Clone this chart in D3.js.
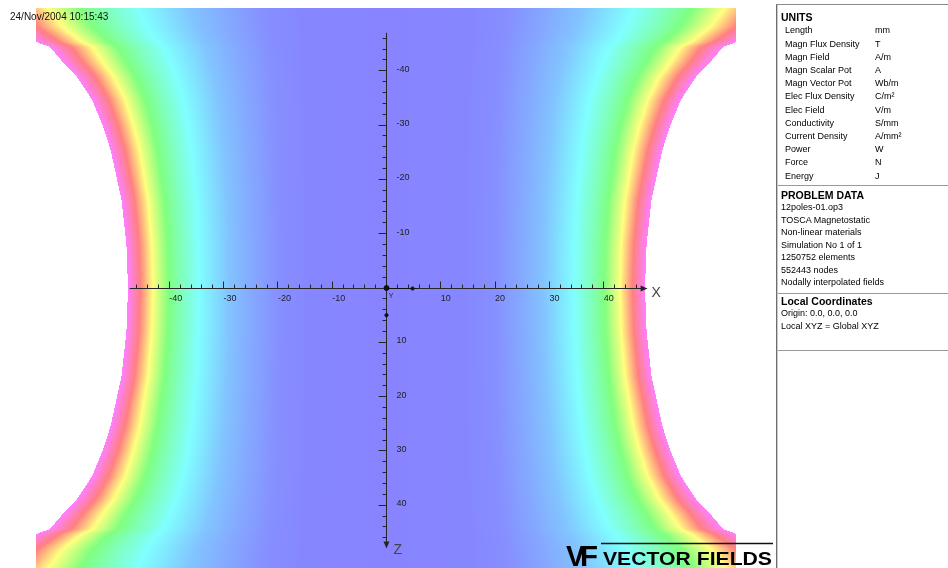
<!DOCTYPE html>
<html>
<head>
<meta charset="utf-8">
<script src="https://cdn.jsdelivr.net/npm/d3@7"></script>
<style>
  html, body { margin: 0; padding: 0; background: #fff; overflow: hidden; }
  #chart { position: relative; width: 948px; height: 568px; }
  #chart canvas, #chart svg { position: absolute; left: 0; top: 0; }
  text { font-family: "Liberation Sans", Arial, sans-serif; }
</style>
</head>
<body>
<div id="chart"></div>
<script>
// ---- data ---------------------------------------------------------------
const timestamp = "24/Nov/2004 10:15:43";

// pole face outline (|Z| in mm -> |X| in mm), same on both sides
const edgeZ = [0, 8, 16.2, 25.4, 30, 34.6, 38.9, 41.6, 44.4, 45.3, 48, 52];
const edgeX = [47.6, 47.9, 48.8, 50.8, 52.3, 54.2, 57.0, 59.6, 62.0, 64.5, 69, 73];

// colour contour levels, given as |X| on the Z = 0 line (mm)
const levelPos   = [0, 14, 20, 25, 29, 34.5, 37.5, 40.1, 43.0, 45.3, 47.6];
const levelColor = ["#8884ff", "#8686ff", "#8690ff", "#84aaff", "#82c4ff", "#80ffff",
                    "#80ffc0", "#80ff80", "#ffff80", "#ff8080", "#ff80ff"];

// axes
const majorTicks = [-40, -30, -20, -10, 10, 20, 30, 40];
const minorTicks = d3.range(-46, 47, 2).filter(v => v !== 0);
const axisSpan   = [-47.3, 47.9];
const zAxisSpan  = [-47, 47.8];

// side panel
const unitNames = ["Length", "Magn Flux Density", "Magn Field", "Magn Scalar Pot", "Magn Vector Pot",
                   "Elec Flux Density", "Elec Field", "Conductivity", "Current Density", "Power", "Force", "Energy"];
const unitSymbols = ["mm", "T", "A/m", "A", "Wb/m", "C/m²", "V/m", "S/mm", "A/mm²", "W", "N", "J"];
const problemLines = ["12poles-01.op3", "TOSCA Magnetostatic", "Non-linear materials", "Simulation No 1 of 1",
                      "1250752 elements", "552443 nodes", "Nodally interpolated fields"];
const coordLines = ["Origin: 0.0, 0.0, 0.0", "Local XYZ = Global XYZ"];

// ---- layout --------------------------------------------------------------
const W = 948, H = 568;
const PX = 5.43;                       // pixels per mm
const cx = 386.5, cz = 288;
const x = d3.scaleLinear().domain([-50, 50]).range([cx - 50 * PX, cx + 50 * PX]);
const z = d3.scaleLinear().domain([-50, 50]).range([cz - 50 * PX, cz + 50 * PX]);
const view = { left: 36, right: 736, top: 8, bottom: 568 };

const root = d3.select("#chart");

// ---- field map (canvas) --------------------------------------------------
const canvas = root.append("canvas").attr("width", W).attr("height", H);
const ctx = canvas.node().getContext("2d");
ctx.fillStyle = "#fff";
ctx.fillRect(0, 0, W, H);

const edgeAt = d3.scaleLinear().domain(edgeZ).range(edgeX);
const colorAt = d3.scaleLinear().domain(levelPos).range(levelColor)
  .interpolate(d3.interpolateRgb).clamp(true);
const x0 = edgeX[0];
const LUT_N = 1024;
const lut = d3.range(LUT_N).map(i => d3.rgb(colorAt(i / (LUT_N - 1) * x0)));

const img = ctx.getImageData(0, 0, W, H);
const buf = img.data;
for (let py = view.top; py < view.bottom; py++) {
  const zu = Math.abs(z.invert(py + 0.5));
  const edge = edgeAt(zu);
  const bulge = edge / x0 - 1;
  for (let px = view.left; px < view.right; px++) {
    const xu = Math.abs(x.invert(px + 0.5));
    if (xu > edge) continue;
    // find contour level s whose line passes through this point
    let lo = 0, hi = x0;
    for (let k = 0; k < 20; k++) {
      const s = (lo + hi) / 2;
      const f = s * (1 + Math.pow(s / x0, 1.5) * bulge);
      if (f < xu) lo = s; else hi = s;
    }
    const c = lut[Math.min(LUT_N - 1, Math.round(lo / x0 * (LUT_N - 1)))];
    const o = (py * W + px) * 4;
    buf[o] = c.r; buf[o + 1] = c.g; buf[o + 2] = c.b; buf[o + 3] = 255;
  }
}
ctx.putImageData(img, 0, 0);

// ---- vector overlay ------------------------------------------------------
const svg = root.append("svg").attr("width", W).attr("height", H);
const crisp = v => Math.floor(v) + 0.5;
const axisCol = "#262626";
const ax = svg.append("g");

const yAx = crisp(z(0)), xAx = crisp(x(0));

// X axis
ax.append("line")
  .attr("x1", x(axisSpan[0])).attr("x2", x(axisSpan[1]) - 4)
  .attr("y1", yAx).attr("y2", yAx)
  .attr("stroke", axisCol);
ax.append("path")
  .attr("d", `M${x(axisSpan[1]) + 1},${yAx}L${x(axisSpan[1]) - 6},${yAx - 3}L${x(axisSpan[1]) - 6},${yAx + 3}Z`)
  .attr("fill", axisCol);
ax.selectAll(".xt").data(minorTicks).join("line")
  .attr("x1", d => crisp(x(d))).attr("x2", d => crisp(x(d)))
  .attr("y1", yAx).attr("y2", d => yAx - (d % 10 === 0 ? 7 : 4))
  .attr("stroke", axisCol);
ax.selectAll(".xl").data(majorTicks).join("text")
  .attr("x", d => x(d)).attr("y", yAx + 12)
  .attr("font-size", 9).attr("fill", "#222")
  .text(d => d);
ax.append("text").attr("x", x(axisSpan[1]) + 5).attr("y", yAx + 8)
  .attr("font-size", 14).attr("fill", "#444").text("X");

// Z axis
ax.append("line")
  .attr("x1", xAx).attr("x2", xAx)
  .attr("y1", z(zAxisSpan[0])).attr("y2", z(zAxisSpan[1]) - 4)
  .attr("stroke", axisCol);
ax.append("path")
  .attr("d", `M${xAx},${z(zAxisSpan[1]) + 1}L${xAx - 3},${z(zAxisSpan[1]) - 6}L${xAx + 3},${z(zAxisSpan[1]) - 6}Z`)
  .attr("fill", axisCol);
ax.selectAll(".zt").data(minorTicks).join("line")
  .attr("y1", d => crisp(z(d))).attr("y2", d => crisp(z(d)))
  .attr("x1", xAx).attr("x2", d => xAx - (d % 10 === 0 ? 8 : 4))
  .attr("stroke", axisCol);
ax.selectAll(".zl").data(majorTicks).join("text")
  .attr("x", xAx + 10).attr("y", d => z(d) + 1)
  .attr("font-size", 9).attr("fill", "#222")
  .text(d => d);
ax.append("text").attr("x", xAx + 7).attr("y", z(zAxisSpan[1]) + 6)
  .attr("font-size", 14).attr("fill", "#444").text("Z");

// local coordinate triad at the origin
const tri = svg.append("g").attr("fill", "#111").attr("stroke", "#111");
tri.append("circle").attr("cx", x(0)).attr("cy", z(0)).attr("r", 2.5);
tri.append("line").attr("x1", x(0)).attr("y1", yAx).attr("x2", x(5.7)).attr("y2", yAx);
tri.append("circle").attr("cx", x(4.8)).attr("cy", yAx).attr("r", 1.6);
tri.append("circle").attr("cx", xAx).attr("cy", z(5)).attr("r", 1.6);
tri.append("text").attr("x", x(0.4)).attr("y", z(1.8)).attr("font-size", 7)
  .attr("stroke", "none").attr("fill", "#222").text("Y");

// timestamp
svg.append("text").attr("x", 10).attr("y", 20).attr("font-size", 10).attr("fill", "#111").text(timestamp);

// logo
const logo = svg.append("g");
logo.append("line").attr("x1", 601).attr("x2", 773).attr("y1", 543.5).attr("y2", 543.5)
  .attr("stroke", "#111").attr("stroke-width", 1.3);
logo.append("text").attr("x", 566).attr("y", 566).attr("font-size", 30).attr("font-weight", 900)
  .attr("textLength", 19).attr("lengthAdjust", "spacingAndGlyphs").attr("fill", "#000").text("V");
logo.append("text").attr("x", 580).attr("y", 566).attr("font-size", 30).attr("font-weight", 700)
  .attr("textLength", 18).attr("lengthAdjust", "spacingAndGlyphs").attr("fill", "#000").text("F");
logo.append("text").attr("x", 603).attr("y", 565).attr("font-size", 18).attr("font-weight", 700)
  .attr("textLength", 169).attr("lengthAdjust", "spacingAndGlyphs").attr("fill", "#000")
  .text("VECTOR FIELDS");

// side panel
const pn = svg.append("g");
pn.append("line").attr("x1", 776.5).attr("x2", 776.5).attr("y1", 4).attr("y2", H).attr("stroke", "#6e6e6e");
pn.append("line").attr("x1", 777.5).attr("x2", 777.5).attr("y1", 5).attr("y2", H).attr("stroke", "#c8c8c8");
pn.append("line").attr("x1", 776).attr("x2", W).attr("y1", 4.5).attr("y2", 4.5).attr("stroke", "#8a8a8a");
[185.5, 293.5, 350.5].forEach(yy => {
  pn.append("line").attr("x1", 778).attr("x2", W).attr("y1", yy).attr("y2", yy).attr("stroke", "#9a9a9a");
});
const head = (t, yy) => pn.append("text").attr("x", 781).attr("y", yy).attr("font-size", 10.5)
  .attr("font-weight", 700).attr("fill", "#000").text(t);
head("UNITS", 21);
pn.selectAll(".un").data(unitNames).join("text")
  .attr("x", 785).attr("y", (d, i) => 33.3 + 13.2 * i).attr("font-size", 9).attr("fill", "#000").text(d => d);
pn.selectAll(".us").data(unitSymbols).join("text")
  .attr("x", 875).attr("y", (d, i) => 33.3 + 13.2 * i).attr("font-size", 9).attr("fill", "#000").text(d => d);
head("PROBLEM DATA", 199);
pn.selectAll(".pd").data(problemLines).join("text")
  .attr("x", 781).attr("y", (d, i) => 210.3 + 12.5 * i).attr("font-size", 9).attr("fill", "#000").text(d => d);
head("Local Coordinates", 305);
pn.selectAll(".lc").data(coordLines).join("text")
  .attr("x", 781).attr("y", (d, i) => 316.3 + 12.2 * i).attr("font-size", 9).attr("fill", "#000").text(d => d);
</script>
</body>
</html>
